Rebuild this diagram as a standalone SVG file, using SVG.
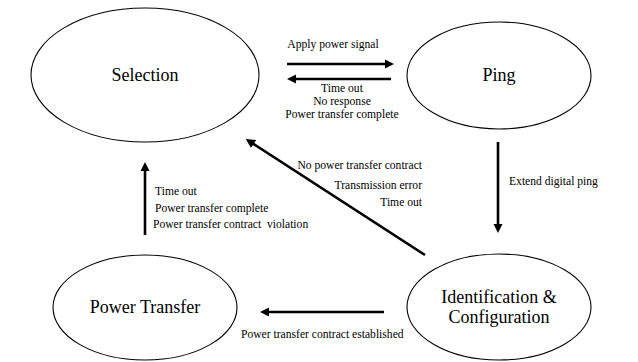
<svg xmlns="http://www.w3.org/2000/svg" width="638" height="362" viewBox="0 0 638 362">
<style>
.node{fill:#fff;stroke:#000;stroke-width:1.1}
.big{font-family:"Liberation Serif","Times New Roman",serif;font-size:18px;fill:#000;text-anchor:middle}
.lbl{font-family:"Liberation Serif","Times New Roman",serif;font-size:11.6px;fill:#000}
.edge{stroke:#000;stroke-width:2.6;fill:none;marker-end:url(#ah)}
</style>
<defs>
<marker id="ah" viewBox="0 0 10 10" refX="2" refY="5" markerWidth="3.6" markerHeight="4" orient="auto" markerUnits="strokeWidth">
<path d="M0,0 L10,5 L0,10 Z" fill="#000"/>
</marker>
</defs>
<rect width="638" height="362" fill="#fff"/>
<g id="selection">
<ellipse class="node" cx="145" cy="75" rx="114" ry="67"/>
<text class="big" x="145" y="81">Selection</text>
</g>
<g id="ping">
<ellipse class="node" cx="499" cy="75.5" rx="92" ry="53.5"/>
<text class="big" x="499" y="81">Ping</text>
</g>
<g id="power-transfer">
<ellipse class="node" cx="145" cy="307.5" rx="92" ry="52.5"/>
<text class="big" x="145" y="313">Power Transfer</text>
</g>
<g id="identification">
<ellipse class="node" cx="499" cy="307" rx="92" ry="53"/>
<text class="big" x="499" y="303">Identification &amp;</text>
<text class="big" x="499" y="323">Configuration</text>
</g>
<g id="connectors">
<line class="edge" x1="287" y1="64" x2="386.5" y2="64"/>
<line class="edge" x1="391" y1="79" x2="294.5" y2="79"/>
<line class="edge" x1="498" y1="142" x2="498" y2="225.5"/>
<line class="edge" x1="425" y1="255" x2="252" y2="143"/>
<line class="edge" x1="145" y1="235" x2="145" y2="169.5"/>
<line class="edge" x1="384" y1="312" x2="267.5" y2="312"/>
<text class="lbl" x="333" y="48" text-anchor="middle">Apply power signal</text>
<text class="lbl" x="342" y="92" text-anchor="middle">Time out</text>
<text class="lbl" x="342" y="105" text-anchor="middle">No response</text>
<text class="lbl" x="342" y="118" text-anchor="middle">Power transfer complete</text>
<text class="lbl" x="509" y="185">Extend digital ping</text>
<text class="lbl" x="422" y="169" text-anchor="end">No power transfer contract</text>
<text class="lbl" x="422" y="189" text-anchor="end">Transmission error</text>
<text class="lbl" x="422" y="206" text-anchor="end">Time out</text>
<text class="lbl" x="155" y="195">Time out</text>
<text class="lbl" x="155" y="212">Power transfer complete</text>
<text class="lbl" x="153" y="228" xml:space="preserve">Power transfer contract  violation</text>
<text class="lbl" x="241" y="338">Power transfer contract established</text>
</g>
</svg>
